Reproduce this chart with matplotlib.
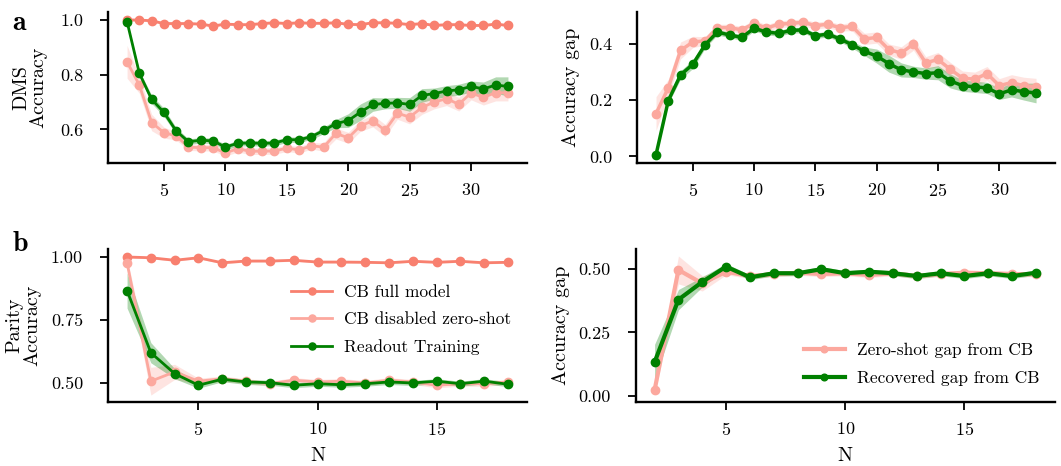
import numpy as np
import matplotlib
matplotlib.use("Agg")
import matplotlib.pyplot as plt

plt.rcParams['font.family'] = 'serif'
plt.rcParams['font.serif'] = ['cmr10', 'DejaVu Serif']
plt.rcParams['mathtext.fontset'] = 'cm'
plt.rcParams['axes.formatter.use_mathtext'] = True
plt.rcParams['font.size'] = 13

# ---- DMS (panel a), N = 2..33
n_dms = np.arange(2, 34)
dms_full = [1.0, 1.0, 0.997, 0.987, 0.987, 0.987, 0.985, 0.978, 0.985, 0.983, 0.983, 0.987,
            0.99, 0.987, 0.99, 0.988, 0.988, 0.99, 0.984, 0.983, 0.99, 0.99, 0.988, 0.983,
            0.987, 0.98, 0.983, 0.983, 0.98, 0.98, 0.985, 0.98]
dms_zero = [0.847, 0.762, 0.625, 0.588, 0.576, 0.535, 0.533, 0.533, 0.514, 0.529, 0.52, 0.52,
            0.521, 0.531, 0.525, 0.54, 0.535, 0.585, 0.569, 0.613, 0.631, 0.596, 0.659, 0.645,
            0.68, 0.7, 0.712, 0.692, 0.733, 0.717, 0.734, 0.734]
dms_zero_err = [0.06, 0.03, 0.03, 0.02, 0.015, 0.012, 0.012, 0.012, 0.012, 0.012, 0.012, 0.012,
                0.012, 0.012, 0.012, 0.012, 0.015, 0.02, 0.02, 0.02, 0.022, 0.022, 0.022, 0.025,
                0.025, 0.025, 0.025, 0.025, 0.025, 0.028, 0.03, 0.03]
dms_read = [0.994, 0.805, 0.71, 0.662, 0.594, 0.555, 0.56, 0.558, 0.535, 0.549, 0.55, 0.549,
            0.55, 0.562, 0.562, 0.573, 0.596, 0.621, 0.632, 0.663, 0.691, 0.695, 0.697, 0.691,
            0.724, 0.731, 0.74, 0.745, 0.757, 0.748, 0.762, 0.757]
dms_read_err = [0.005, 0.01, 0.015, 0.015, 0.012, 0.01, 0.01, 0.01, 0.01, 0.01, 0.01, 0.01,
                0.01, 0.01, 0.01, 0.01, 0.012, 0.015, 0.025, 0.03, 0.025, 0.02, 0.02, 0.025,
                0.025, 0.02, 0.02, 0.02, 0.02, 0.025, 0.03, 0.035]
dms_full_err = [0.004] * 32
dms_gap_zero = [0.152, 0.243, 0.376, 0.406, 0.41, 0.457, 0.457, 0.449, 0.472, 0.455, 0.469, 0.472,
                0.476, 0.464, 0.469, 0.457, 0.461, 0.417, 0.422, 0.379, 0.367, 0.399, 0.332, 0.344,
                0.309, 0.278, 0.274, 0.294, 0.251, 0.262, 0.251, 0.247]
dms_gap_read = [0.006, 0.198, 0.289, 0.327, 0.396, 0.441, 0.431, 0.422, 0.455, 0.441, 0.437, 0.447,
                0.449, 0.428, 0.434, 0.417, 0.396, 0.373, 0.356, 0.329, 0.307, 0.3, 0.294, 0.297,
                0.268, 0.251, 0.247, 0.243, 0.222, 0.236, 0.23, 0.225]

# ---- Parity (panel b), N = 2..18
n_par = np.arange(2, 19)
par_full = [1.0, 0.997, 0.987, 0.997, 0.977, 0.984, 0.984, 0.987, 0.98, 0.98, 0.979, 0.977,
            0.983, 0.979, 0.983, 0.977, 0.979]
par_zero = [0.977, 0.507, 0.544, 0.507, 0.517, 0.507, 0.497, 0.511, 0.504, 0.507, 0.5, 0.511,
            0.504, 0.491, 0.497, 0.497, 0.504]
par_zero_err = [0.02, 0.055, 0.03, 0.012, 0.01, 0.01, 0.01, 0.01, 0.01, 0.01, 0.01, 0.01,
                0.01, 0.01, 0.01, 0.01, 0.01]
par_read = [0.867, 0.62, 0.537, 0.491, 0.515, 0.504, 0.501, 0.491, 0.497, 0.493, 0.497, 0.504,
            0.5, 0.507, 0.497, 0.507, 0.495]
par_read_err = [0.07, 0.04, 0.02, 0.012, 0.01, 0.01, 0.01, 0.01, 0.01, 0.01, 0.01, 0.01,
                0.01, 0.01, 0.01, 0.01, 0.01]
par_full_err = [0.004] * 17
par_gap_zero = [0.023, 0.496, 0.443, 0.489, 0.472, 0.479, 0.485, 0.48, 0.483, 0.476, 0.483, 0.472,
                0.48, 0.485, 0.483, 0.48, 0.479]
par_gap_read = [0.133, 0.379, 0.449, 0.509, 0.467, 0.483, 0.483, 0.499, 0.483, 0.489, 0.483, 0.472,
                0.483, 0.472, 0.483, 0.472, 0.485]

c_full = '#f8806f'
c_zero = '#fca89e'
c_read = 'green'

TICK_FS = 13
LABEL_FS = 14.5
LEG_FS = 12.5


def curve(ax, x, y, err, color, lw, label=None, ms=6):
    y = np.asarray(y)
    err = np.asarray(err)
    ax.fill_between(x, y - err, y + err, color=color, alpha=0.3, lw=0)
    ax.plot(x, y, '-o', color=color, lw=lw, ms=ms, label=label)


def style(ax):
    for s in ['top', 'right']:
        ax.spines[s].set_visible(False)
    for s in ['left', 'bottom']:
        ax.spines[s].set_linewidth(1.7)
    ax.tick_params(width=1.3, length=6, labelsize=TICK_FS)
    ax.tick_params(axis='y', pad=12)
    ax.tick_params(axis='x', pad=8)


fig = plt.figure(figsize=(10.61, 4.66), dpi=100)
ax1 = fig.add_axes([0.1018, 0.6502, 0.3949, 0.324])
ax2 = fig.add_axes([0.6004, 0.6502, 0.394, 0.324])
ax3 = fig.add_axes([0.1018, 0.1373, 0.3949, 0.3283])
ax4 = fig.add_axes([0.5990, 0.1373, 0.3954, 0.3283])

# panel a
curve(ax1, n_dms, dms_full, dms_full_err, c_full, 2, ms=6)
curve(ax1, n_dms, dms_zero, dms_zero_err, c_zero, 2, ms=6)
curve(ax1, n_dms, dms_read, dms_read_err, c_read, 2, ms=6)
ax1.set_yticks([0.6, 0.8, 1.0], ['0.6', '0.8', '1.0'])
ax1.set_xticks([5, 10, 15, 20, 25, 30])
ax1.set_ylabel('DMS\nAccuracy', fontsize=LABEL_FS, linespacing=0.95, labelpad=9)

curve(ax2, n_dms, dms_gap_zero, dms_zero_err, c_zero, 2.5, ms=6)
curve(ax2, n_dms, dms_gap_read, dms_read_err, c_read, 2.5, ms=6)
ax2.set_yticks([0.0, 0.2, 0.4], ['0.0', '0.2', '0.4'])
ax2.set_xticks([5, 10, 15, 20, 25, 30])
ax2.set_ylabel('Accuracy gap', fontsize=LABEL_FS, labelpad=6)

# panel b
curve(ax3, n_par, par_full, par_full_err, c_full, 2, label='CB full model', ms=6)
curve(ax3, n_par, par_zero, par_zero_err, c_zero, 2, label='CB disabled zero-shot', ms=6)
curve(ax3, n_par, par_read, par_read_err, c_read, 2, label='Readout Training', ms=6)
ax3.set_yticks([0.5, 0.75, 1.0], ['0.50', '0.75', '1.00'])
ax3.set_xticks([5, 10, 15])
ax3.set_ylabel('Parity\nAccuracy', fontsize=LABEL_FS, linespacing=0.95, labelpad=7)
ax3.set_xlabel('N', fontsize=LABEL_FS, labelpad=6)
ax3.legend(loc='center right', bbox_to_anchor=(1.0, 0.536), frameon=False, fontsize=LEG_FS,
           handlelength=2.35, labelspacing=0.7, markerscale=0.85, handletextpad=0.7)

curve(ax4, n_par, par_gap_zero, par_zero_err, c_zero, 3, label='Zero-shot gap from CB', ms=6)
curve(ax4, n_par, par_gap_read, par_read_err, c_read, 3, label='Recovered gap from CB', ms=6)
ax4.set_yticks([0.0, 0.25, 0.5], ['0.00', '0.25', '0.50'])
ax4.set_xticks([5, 10, 15])
ax4.set_ylabel('Accuracy gap', fontsize=LABEL_FS, labelpad=6)
ax4.set_xlabel('N', fontsize=LABEL_FS, labelpad=6)
ax4.legend(loc='lower right', frameon=False, fontsize=LEG_FS,
           handlelength=2.35, labelspacing=0.7, markerscale=0.8, handletextpad=0.7)

for ax in [ax1, ax2, ax3, ax4]:
    style(ax)

fig.text(0.012, 0.935, 'a', fontsize=20, fontfamily='cmb10', fontweight='bold')
fig.text(0.012, 0.462, 'b', fontsize=20, fontfamily='cmb10', fontweight='bold')

fig.savefig('out.png', dpi=100)
